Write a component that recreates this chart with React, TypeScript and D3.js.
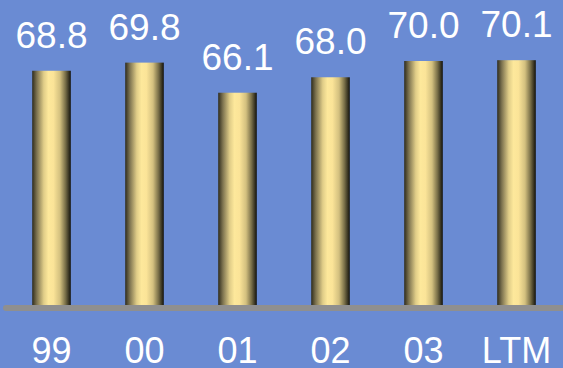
import React from "react";
import * as d3 from "d3";

const categories = ["99", "00", "01", "02", "03", "LTM"];
const values = [68.8, 69.8, 66.1, 68.0, 70.0, 70.1];
const valueLabels = ["68.8", "69.8", "66.1", "68.0", "70.0", "70.1"];

const W = 563;
const H = 368;
const baseY = 305;

export default function App() {
  const x = d3
    .scaleBand<string>()
    .domain(categories)
    .range([5, 563])
    .paddingInner(0.585)
    .paddingOuter(0.2925);
  const y = d3.scaleLinear().domain([40, 70]).range([baseY, 61]);

  return (
    <svg
      width={W}
      height={H}
      style={{ position: "absolute", left: 0, top: 0, display: "block" }}
      fontFamily="'Liberation Sans', Arial, sans-serif"
    >
      <defs>
        <linearGradient id="cyl" x1="0" x2="1" y1="0" y2="0">
          <stop offset="0" stopColor="#2e2b1c" />
          <stop offset="0.12" stopColor="#7d7350" />
          <stop offset="0.3" stopColor="#e0cd88" />
          <stop offset="0.42" stopColor="#fde89b" />
          <stop offset="0.55" stopColor="#fbe498" />
          <stop offset="0.72" stopColor="#d3c07f" />
          <stop offset="0.86" stopColor="#7a7049" />
          <stop offset="1" stopColor="#12110b" />
        </linearGradient>
      </defs>
      <rect x={0} y={0} width={W} height={H} fill="#6a8bd3" />
      {categories.map((c, i) => {
        const bx = x(c)!;
        const top = y(values[i]);
        return (
          <g key={c}>
            <rect
              x={bx}
              y={top}
              width={x.bandwidth()}
              height={baseY - top}
              fill="url(#cyl)"
            />
            <text
              x={bx + x.bandwidth() / 2}
              y={top - 23}
              textAnchor="middle"
              fill="#ffffff"
              fontSize={37}
            >
              {valueLabels[i]}
            </text>
            <text
              x={bx + x.bandwidth() / 2}
              y={362.5}
              textAnchor="middle"
              fill="#ffffff"
              fontSize={36}
            >
              {c}
            </text>
          </g>
        );
      })}
      <line
        x1={6}
        x2={570}
        y1={baseY + 3}
        y2={baseY + 3}
        stroke="#8f8f8f"
        strokeWidth={6}
        strokeLinecap="round"
      />
    </svg>
  );
}
